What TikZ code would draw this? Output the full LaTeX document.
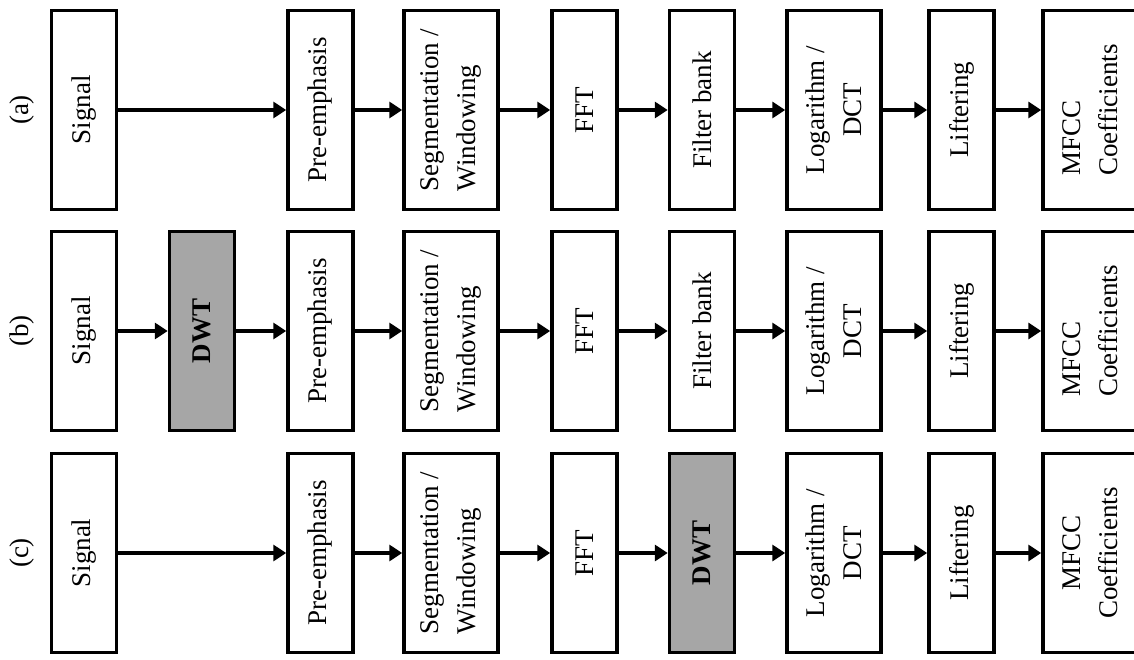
\documentclass[tikz,border=0pt]{standalone}
\usepackage{fontspec}
\setmainfont{Liberation Serif}
\usetikzlibrary{arrows.meta}
\definecolor{dwtgray}{HTML}{A6A6A6}
\begin{document}
\begin{tikzpicture}[x=1pt,y=-1pt,
  blk/.style={draw=black, line width=3.5pt, fill=white, rotate=90, minimum width=199pt,
    inner sep=2pt, font=\fontsize{27}{37}\selectfont, align=center},
  nar/.style={minimum height=65pt},
  wid/.style={minimum height=94pt},
  dwtbox/.style={blk, nar, fill=dwtgray, font=\fontsize{27}{37}\selectfont\bfseries},
  lbl/.style={rotate=90, font=\fontsize{27}{37}\selectfont, inner sep=0pt},
  arr/.style={line width=3.5pt, -{Triangle[length=13pt,width=16pt]}}]
\useasboundingbox (0,0) rectangle (1134,660);
\clip (0,0) rectangle (1134,660);
% row (a)
\node[lbl] (la) at (22,110) {(a)};
\node[blk,nar] (a1) at (84,110) {Signal};
\node[blk,nar] (a2) at (320.5,110) {Pre-emphasis};
\node[blk,wid,align=left] (a3) at (451,110) {Segmentation /\\Windowing};
\node[blk,nar] (a4) at (584.5,110) {FFT};
\node[blk,nar] (a5) at (702,110) {Filter bank};
\node[blk,wid] (a6) at (834,110) {Logarithm /\\DCT};
\node[blk,nar] (a7) at (961.5,110) {Liftering};
\node[blk,wid,align=left] (a8) at (1090,110) {MFCC\\Coefficients};
\draw[arr] (a1.south) -- (a2.north);
\draw[arr] (a2.south) -- (a3.north);
\draw[arr] (a3.south) -- (a4.north);
\draw[arr] (a4.south) -- (a5.north);
\draw[arr] (a5.south) -- (a6.north);
\draw[arr] (a6.south) -- (a7.north);
\draw[arr] (a7.south) -- (a8.north);
% row (b)
\node[lbl] (lb) at (22,331) {(b)};
\node[blk,nar] (b1) at (84,331) {Signal};
\node[dwtbox] (b0) at (202,331) {DWT};
\node[blk,nar] (b2) at (320.5,331) {Pre-emphasis};
\node[blk,wid,align=left] (b3) at (451,331) {Segmentation /\\Windowing};
\node[blk,nar] (b4) at (584.5,331) {FFT};
\node[blk,nar] (b5) at (702,331) {Filter bank};
\node[blk,wid] (b6) at (834,331) {Logarithm /\\DCT};
\node[blk,nar] (b7) at (961.5,331) {Liftering};
\node[blk,wid,align=left] (b8) at (1090,331) {MFCC\\Coefficients};
\draw[arr] (b1.south) -- (b0.north);
\draw[arr] (b0.south) -- (b2.north);
\draw[arr] (b2.south) -- (b3.north);
\draw[arr] (b3.south) -- (b4.north);
\draw[arr] (b4.south) -- (b5.north);
\draw[arr] (b5.south) -- (b6.north);
\draw[arr] (b6.south) -- (b7.north);
\draw[arr] (b7.south) -- (b8.north);
% row (c)
\node[lbl] (lc) at (22,553) {(c)};
\node[blk,nar] (c1) at (84,553) {Signal};
\node[blk,nar] (c2) at (320.5,553) {Pre-emphasis};
\node[blk,wid,align=left] (c3) at (451,553) {Segmentation /\\Windowing};
\node[blk,nar] (c4) at (584.5,553) {FFT};
\node[dwtbox] (c5) at (702,553) {DWT};
\node[blk,wid] (c6) at (834,553) {Logarithm /\\DCT};
\node[blk,nar] (c7) at (961.5,553) {Liftering};
\node[blk,wid] (c8) at (1090,553) {MFCC\\Coefficients};
\draw[arr] (c1.south) -- (c2.north);
\draw[arr] (c2.south) -- (c3.north);
\draw[arr] (c3.south) -- (c4.north);
\draw[arr] (c4.south) -- (c5.north);
\draw[arr] (c5.south) -- (c6.north);
\draw[arr] (c6.south) -- (c7.north);
\draw[arr] (c7.south) -- (c8.north);
\end{tikzpicture}
\end{document}
